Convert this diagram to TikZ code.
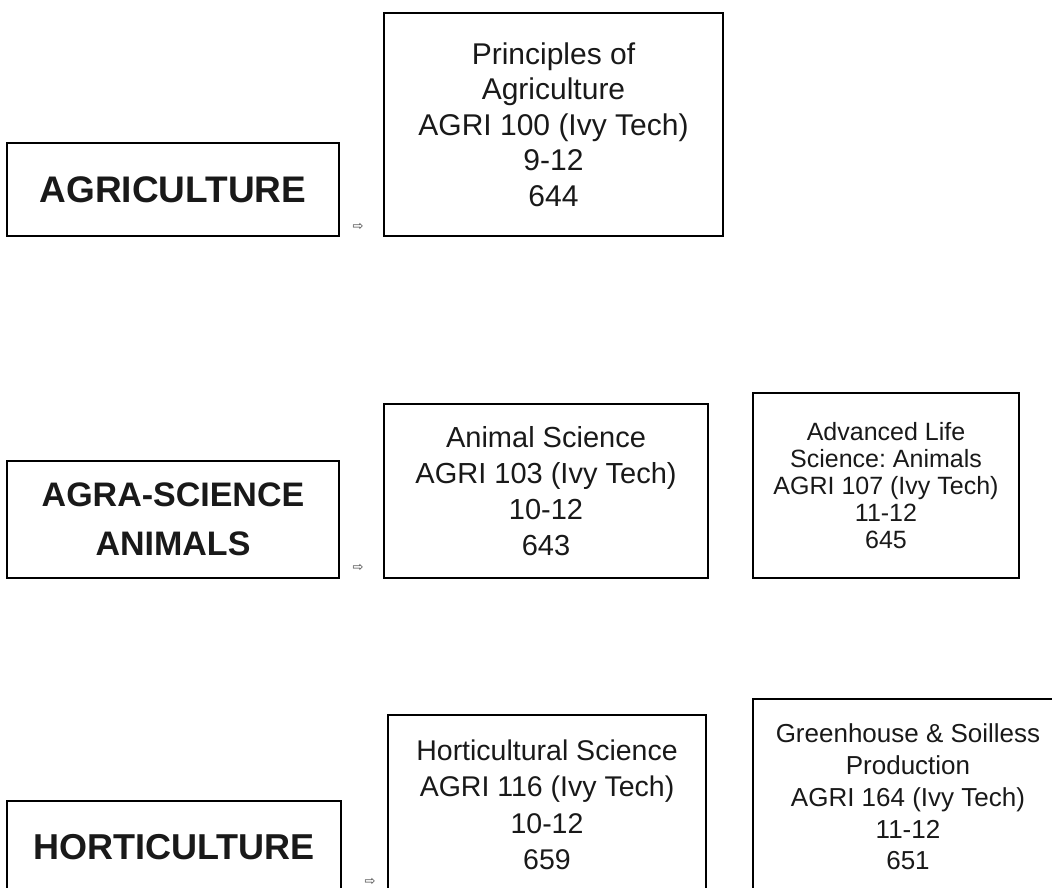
\documentclass[tikz,border=0pt]{standalone}
\usepackage{fontspec}
\setmainfont{Liberation Sans}
\newfontfamily\arrowfont{DejaVu Sans}
\usetikzlibrary{positioning}
\frenchspacing

\tikzset{
  box/.style={draw=black, line width=1.4pt, align=center, inner sep=0pt, text=black!90},
  pathway/.style={box, font=\fontsize{36}{49}\selectfont\bfseries},
  course/.style={box, font=\fontsize{29}{36}\selectfont},
  nexthint/.style={font=\arrowfont\fontsize{13}{13}\selectfont, text=black!75, inner sep=0pt}
}

\begin{document}
\begin{tikzpicture}[x=1pt, y=-1pt]
  \useasboundingbox (0,0) rectangle (1052,888);
  \clip (0,0) rectangle (1052,888);
  % agriculture
  \node[pathway, font=\fontsize{37}{49}\selectfont\bfseries,
        minimum width=332, minimum height=93] (agri) at (173,189.5) {AGRICULTURE};
  \node[course, font=\fontsize{30}{35.5}\selectfont,
        minimum width=339, minimum height=223] (principles) at (553.5,124.5)
    {Principles of\\Agriculture\\AGRI 100 (Ivy Tech)\\9-12\\644};
  \node[nexthint] (agrinext) at (358,227) {⇨};
  % agra-science animals
  \node[pathway, font=\fontsize{34}{49}\selectfont\bfseries,
        minimum width=332, minimum height=117] (agra) at (173,519.5) {AGRA-SCIENCE\\ANIMALS};
  \node[course, minimum width=324, minimum height=174] (animal) at (546,491)
    {Animal Science\\AGRI 103 (Ivy Tech)\\10-12\\643};
  \node[course, font=\fontsize{25}{27}\selectfont,
        minimum width=266, minimum height=185] (advanced) at (886,485.5)
    {Advanced Life\\Science: Animals\\AGRI 107 (Ivy Tech)\\11-12\\645};
  \node[nexthint] (agranext) at (358,568) {⇨};
  % horticulture
  \node[pathway, minimum width=334, minimum height=93] (hort) at (174,847.5) {HORTICULTURE};
  \node[course, font=\fontsize{28.5}{36.5}\selectfont,
        minimum width=318, minimum height=180] (horts) at (547,805)
    {Horticultural Science\\AGRI 116 (Ivy Tech)\\10-12\\659};
  \node[course, font=\fontsize{26}{31.7}\selectfont,
        minimum width=310, minimum height=196] (greenhouse) at (908,797)
    {Greenhouse \& Soilless\\Production\\AGRI 164 (Ivy Tech)\\11-12\\651};
  \node[nexthint] (hortnext) at (370,882) {⇨};
\end{tikzpicture}
\end{document}
